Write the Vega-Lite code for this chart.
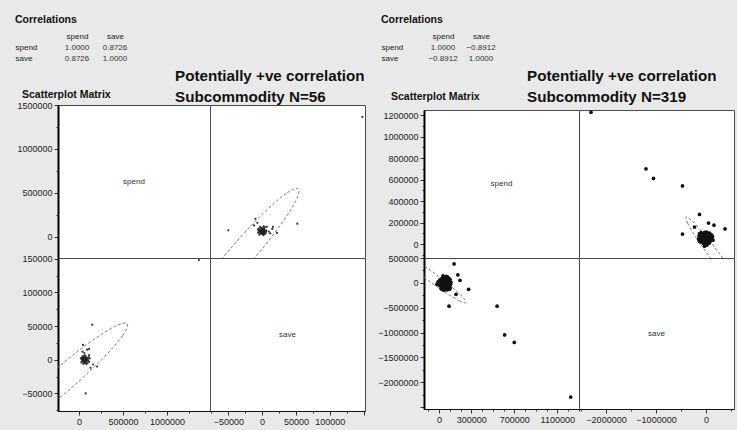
{
  "$schema": "https://vega.github.io/schema/vega-lite/v6.json",
  "background": "#e9e9e9",
  "padding": {"left": 15, "top": 14, "right": 2, "bottom": 6},
  "config": {
    "font": "Liberation Sans",
    "view": {"stroke": "#4a4a4a", "fill": "white"},
    "axis": {"grid": false, "title": null, "labelFontSize": 9, "labelColor": "#222", "tickColor": "#333", "domainColor": "#111", "tickSize": 4, "labelPadding": 2, "labelOverlap": false},
    "title": {"font": "Liberation Sans", "color": "#111"}
  },
  "datasets": {
    "corrL": [
      {"row": "spend", "col": "spend", "r": 1},
      {"row": "spend", "col": "save", "r": 0.8726},
      {"row": "save", "col": "spend", "r": 0.8726},
      {"row": "save", "col": "save", "r": 1}
    ],
    "corrR": [
      {"row": "spend", "col": "spend", "r": 1},
      {"row": "spend", "col": "save", "r": -0.8912},
      {"row": "save", "col": "spend", "r": -0.8912},
      {"row": "save", "col": "save", "r": 1}
    ],
    "ptsL": [
      {"spend": 1364000, "save": 148000}, {"spend": 75000, "save": -50000}, {"spend": 150000, "save": 52000},
      {"spend": 160000, "save": -7000}, {"spend": 114000, "save": 7000}, {"spend": 114000, "save": 16000},
      {"spend": 45000, "save": 22000}, {"spend": 91000, "save": 15000}, {"spend": 205000, "save": -10000},
      {"spend": 130000, "save": -12000}, {"spend": 60000, "save": 10000}, {"spend": 40000, "save": 12000},
      {"spend": 30000, "save": 1000}, {"spend": 35000, "save": -2000}, {"spend": 40000, "save": 0},
      {"spend": 42000, "save": 3000}, {"spend": 45000, "save": -1000}, {"spend": 48000, "save": 2000},
      {"spend": 50000, "save": -3000}, {"spend": 52000, "save": 0}, {"spend": 55000, "save": 1000},
      {"spend": 57000, "save": -2000}, {"spend": 60000, "save": 2000}, {"spend": 62000, "save": 0},
      {"spend": 64000, "save": -4000}, {"spend": 66000, "save": 3000}, {"spend": 68000, "save": -1000},
      {"spend": 70000, "save": 1000}, {"spend": 72000, "save": -2000}, {"spend": 75000, "save": 4000},
      {"spend": 78000, "save": 0}, {"spend": 80000, "save": -3000}, {"spend": 85000, "save": 2000},
      {"spend": 88000, "save": -1000}, {"spend": 92000, "save": 3000}, {"spend": 95000, "save": -5000},
      {"spend": 100000, "save": 1000}, {"spend": 105000, "save": -2000}, {"spend": 110000, "save": 4000},
      {"spend": 25000, "save": -4000}, {"spend": 20000, "save": 2000}, {"spend": 38000, "save": 5000},
      {"spend": 58000, "save": 6000}, {"spend": 82000, "save": -6000}, {"spend": 47000, "save": -6000},
      {"spend": 115000, "save": -3000}, {"spend": 53000, "save": 4000}, {"spend": 67000, "save": -5000},
      {"spend": 73000, "save": 6000}, {"spend": 90000, "save": 0}, {"spend": 120000, "save": 2000},
      {"spend": 33000, "save": 3000}, {"spend": 56000, "save": -1000}, {"spend": 61000, "save": 1000},
      {"spend": 49000, "save": 0}, {"spend": 69000, "save": 2000}
    ],
    "ellL": [
      {"i": 0, "spend": 548000, "save": 53600}, {"i": 1, "spend": 494000, "save": 35600},
      {"i": 2, "spend": 256000, "save": 0}, {"i": 3, "spend": -102000, "save": -43300},
      {"i": 4, "spend": -485000, "save": -83000}, {"i": 5, "spend": -790000, "save": -108600},
      {"i": 6, "spend": -934000, "save": -113000}, {"i": 7, "spend": -880000, "save": -95000},
      {"i": 8, "spend": -642000, "save": -59400}, {"i": 9, "spend": -284000, "save": -16000},
      {"i": 10, "spend": 99000, "save": 23700}, {"i": 11, "spend": 403000, "save": 49300}
    ],
    "ptsR": [
      {"spend": 1225000, "save": -2300000}, {"spend": 700000, "save": -1200000}, {"spend": 610000, "save": -1050000},
      {"spend": 540000, "save": -470000}, {"spend": 275000, "save": -130000}, {"spend": 158000, "save": -230000},
      {"spend": 93000, "save": -470000}, {"spend": 195000, "save": 50000}, {"spend": 175000, "save": 160000},
      {"spend": 140000, "save": 380000},
      {"spend": 20000, "save": -60000}, {"spend": 30000, "save": -20000}, {"spend": 40000, "save": 10000},
      {"spend": 50000, "save": 40000}, {"spend": 60000, "save": -40000}, {"spend": 70000, "save": 0},
      {"spend": 80000, "save": 60000}, {"spend": 90000, "save": -80000}, {"spend": 100000, "save": 20000},
      {"spend": 25000, "save": 80000}, {"spend": 35000, "save": -100000}, {"spend": 45000, "save": 110000},
      {"spend": 55000, "save": -120000}, {"spend": 65000, "save": 70000}, {"spend": 75000, "save": -10000},
      {"spend": 85000, "save": 30000}, {"spend": 95000, "save": -50000}, {"spend": 105000, "save": -100000},
      {"spend": 15000, "save": 30000}, {"spend": 28000, "save": 50000}, {"spend": 38000, "save": -70000},
      {"spend": 48000, "save": -30000}, {"spend": 58000, "save": 90000}, {"spend": 68000, "save": -90000},
      {"spend": 78000, "save": 120000}, {"spend": 88000, "save": -20000}, {"spend": 98000, "save": 50000},
      {"spend": 108000, "save": -30000}, {"spend": 18000, "save": -110000}, {"spend": 32000, "save": 100000},
      {"spend": 42000, "save": -50000}, {"spend": 52000, "save": 0}, {"spend": 62000, "save": 20000},
      {"spend": 72000, "save": -60000}, {"spend": 82000, "save": 90000}, {"spend": 92000, "save": -110000},
      {"spend": 102000, "save": 70000}, {"spend": 12000, "save": 0}, {"spend": 22000, "save": 20000},
      {"spend": 47000, "save": -80000}, {"spend": 57000, "save": 60000}, {"spend": 67000, "save": -30000},
      {"spend": 77000, "save": 30000}, {"spend": 87000, "save": 100000}, {"spend": 97000, "save": -130000},
      {"spend": 110000, "save": 10000}, {"spend": 63000, "save": 40000}, {"spend": 43000, "save": 70000},
      {"spend": 33000, "save": -40000}, {"spend": 53000, "save": -10000}, {"spend": -10000, "save": 20000},
      {"spend": -20000, "save": -30000}, {"spend": 5000, "save": -50000}, {"spend": 8000, "save": 60000},
      {"spend": 36000, "save": 140000}, {"spend": 74000, "save": -140000}, {"spend": 26000, "save": -130000},
      {"spend": 84000, "save": -60000}, {"spend": 66000, "save": 130000}, {"spend": 46000, "save": -150000}
    ],
    "ellR": [
      {"i": 0, "spend": 251000, "save": -400000}, {"i": 1, "spend": 193000, "save": -366000},
      {"i": 2, "spend": 60000, "save": -196000}, {"i": 3, "spend": -111000, "save": 64000},
      {"i": 4, "spend": -274000, "save": 344000}, {"i": 5, "spend": -387000, "save": 570000},
      {"i": 6, "spend": -419000, "save": 680000}, {"i": 7, "spend": -361000, "save": 646000},
      {"i": 8, "spend": -228000, "save": 476000}, {"i": 9, "spend": -57000, "save": 216000},
      {"i": 10, "spend": 107000, "save": -64000}, {"i": 11, "spend": 220000, "save": -290000}
    ]
  },
  "hconcat": [
    {
      "concat": [
        {
          "data": {"name": "corrL"},
          "width": 76, "height": 22,
          "view": {"stroke": null, "fill": null},
          "title": {"text": "Correlations", "anchor": "start", "frame": "group", "dx": -43, "offset": 7, "fontSize": 10.5, "fontWeight": "bold"},
          "mark": {"type": "text", "fontSize": 8, "color": "#333"},
          "encoding": {
            "x": {"field": "col", "type": "nominal", "sort": ["spend", "save"], "scale": {"padding": 0.5}, "axis": {"orient": "top", "domain": false, "ticks": false, "labelAngle": 0, "labelFontSize": 8, "labelPadding": 2}},
            "y": {"field": "row", "type": "nominal", "sort": ["spend", "save"], "scale": {"padding": 0.5}, "axis": {"domain": false, "ticks": false, "labelAlign": "left", "labelPadding": 43, "labelFontSize": 8}},
            "text": {"field": "r", "type": "quantitative", "format": ".4f"}
          }
        },
        {
          "concat": [
            {
              "width": 152, "height": 153,
              "view": {"fill": "white", "stroke": "#4a4a4a"},
              "title": {"text": "Scatterplot Matrix", "anchor": "start", "frame": "group", "dx": -36, "dy": 2, "offset": 3, "fontSize": 10.5, "fontWeight": "bold"},
              "layer": [
                {"data": {"name": "ptsL"}, "mark": {"type": "point", "opacity": 0},
                 "encoding": {"y": {"field": "spend", "type": "quantitative", "scale": {"domain": [-240000, 1500000], "nice": false, "zero": false},
                   "axis": {"values": [0, 250000, 500000, 750000, 1000000, 1250000, 1500000], "format": "d", "domainWidth": 2, "domainColor": "#000", "labelOverlap": false,
                     "labelExpr": "datum.value % 500000 === 0 ? datum.label : ''",
                     "tickSize": {"condition": {"test": "datum.value % 500000 === 0", "value": 4}, "value": 2}}}}},
                {"data": {"values": [{"name": "spend"}]}, "mark": {"type": "text", "fontSize": 8, "color": "#333"}, "encoding": {"text": {"field": "name"}}}
              ]
            },
            {
              "width": 155, "height": 153,
              "title": {"text": ["Potentially +ve correlation", "Subcommodity  N=56"], "anchor": "start", "frame": "group", "dx": -35, "offset": 0, "fontSize": 15.2, "fontWeight": "bold", "lineHeight": 21},
              "layer": [
                {"data": {"name": "ellL"}, "mark": {"type": "line", "interpolate": "cardinal-closed", "clip": true, "stroke": "#808080", "strokeWidth": 1, "strokeDash": [3, 2]},
                 "encoding": {
                   "x": {"field": "save", "type": "quantitative", "scale": {"domain": [-77000, 152000], "nice": false, "zero": false}, "axis": null},
                   "y": {"field": "spend", "type": "quantitative", "scale": {"domain": [-240000, 1500000], "nice": false, "zero": false}, "axis": null},
                   "order": {"field": "i", "type": "quantitative"}}},
                {"data": {"name": "ptsL"}, "mark": {"type": "circle", "clip": true, "size": 5, "color": "#222", "opacity": 0.9},
                 "encoding": {
                   "x": {"field": "save", "type": "quantitative", "axis": null},
                   "y": {"field": "spend", "type": "quantitative", "axis": null}}}
              ]
            },
            {
              "width": 152, "height": 153,
              "layer": [
                {"data": {"name": "ellL"}, "mark": {"type": "line", "interpolate": "cardinal-closed", "clip": true, "stroke": "#808080", "strokeWidth": 1, "strokeDash": [3, 2]},
                 "encoding": {
                   "x": {"field": "spend", "type": "quantitative", "scale": {"domain": [-240000, 1490000], "nice": false, "zero": false},
                     "axis": {"values": [0, 250000, 500000, 750000, 1000000, 1250000], "format": "d", "labelOverlap": false,
                       "labelExpr": "datum.value % 500000 === 0 ? datum.label : ''",
                       "tickSize": {"condition": {"test": "datum.value % 500000 === 0", "value": 4}, "value": 2}}},
                   "y": {"field": "save", "type": "quantitative", "scale": {"domain": [-76000, 151000], "nice": false, "zero": false},
                     "axis": {"values": [-75000, -50000, -25000, 0, 25000, 50000, 75000, 100000, 125000, 150000], "format": "d", "domainWidth": 2, "domainColor": "#000", "labelOverlap": false,
                       "labelExpr": "datum.value % 50000 === 0 ? datum.label : ''",
                       "tickSize": {"condition": {"test": "datum.value % 50000 === 0", "value": 4}, "value": 2}}},
                   "order": {"field": "i", "type": "quantitative"}}},
                {"data": {"name": "ptsL"}, "mark": {"type": "circle", "clip": true, "size": 5, "color": "#222", "opacity": 0.9},
                 "encoding": {
                   "x": {"field": "spend", "type": "quantitative",
                     "axis": {"values": [0, 250000, 500000, 750000, 1000000, 1250000], "format": "d", "labelOverlap": false,
                       "labelExpr": "datum.value % 500000 === 0 ? datum.label : ''",
                       "tickSize": {"condition": {"test": "datum.value % 500000 === 0", "value": 4}, "value": 2}}},
                   "y": {"field": "save", "type": "quantitative",
                     "axis": {"values": [-75000, -50000, -25000, 0, 25000, 50000, 75000, 100000, 125000, 150000], "format": "d", "domainWidth": 2, "domainColor": "#000", "labelOverlap": false,
                       "labelExpr": "datum.value % 50000 === 0 ? datum.label : ''",
                       "tickSize": {"condition": {"test": "datum.value % 50000 === 0", "value": 4}, "value": 2}}}}}
              ]
            },
            {
              "width": 155, "height": 153,
              "view": {"fill": "white", "stroke": "#4a4a4a"},
              "layer": [
                {"data": {"name": "ptsL"}, "mark": {"type": "point", "opacity": 0},
                 "encoding": {"x": {"field": "save", "type": "quantitative", "scale": {"domain": [-77000, 152000], "nice": false, "zero": false},
                   "axis": {"values": [-75000, -50000, -25000, 0, 25000, 50000, 75000, 100000, 125000, 150000], "format": "d", "labelOverlap": false,
                     "labelExpr": "datum.value % 50000 === 0 && datum.value < 150000 ? datum.label : ''",
                     "tickSize": {"condition": {"test": "datum.value % 50000 === 0", "value": 4}, "value": 2}}}}},
                {"data": {"values": [{"name": "save"}]}, "mark": {"type": "text", "fontSize": 8, "color": "#333"}, "encoding": {"text": {"field": "name"}}}
              ]
            }
          ],
          "columns": 2, "spacing": 0, "bounds": "flush"
        }
      ],
      "columns": 1, "align": "none", "spacing": 4
    },
    {
      "concat": [
        {
          "data": {"name": "corrR"},
          "width": 76, "height": 22,
          "view": {"stroke": null, "fill": null},
          "title": {"text": "Correlations", "anchor": "start", "frame": "group", "dx": -43, "offset": 7, "fontSize": 10.5, "fontWeight": "bold"},
          "mark": {"type": "text", "fontSize": 8, "color": "#333"},
          "encoding": {
            "x": {"field": "col", "type": "nominal", "sort": ["spend", "save"], "scale": {"padding": 0.5}, "axis": {"orient": "top", "domain": false, "ticks": false, "labelAngle": 0, "labelFontSize": 8, "labelPadding": 2}},
            "y": {"field": "row", "type": "nominal", "sort": ["spend", "save"], "scale": {"padding": 0.5}, "axis": {"domain": false, "ticks": false, "labelAlign": "left", "labelPadding": 43, "labelFontSize": 8}},
            "text": {"field": "r", "type": "quantitative", "format": ".4f"}
          }
        },
        {
          "concat": [
            {
              "width": 155, "height": 148,
              "view": {"fill": "white", "stroke": "#4a4a4a"},
              "title": {"text": "Scatterplot Matrix", "anchor": "start", "frame": "group", "dx": -33, "dy": -4, "offset": 3, "fontSize": 10.5, "fontWeight": "bold"},
              "layer": [
                {"data": {"name": "ptsR"}, "mark": {"type": "point", "opacity": 0},
                 "encoding": {"y": {"field": "spend", "type": "quantitative", "scale": {"domain": [-130000, 1247000], "nice": false, "zero": false},
                   "axis": {"values": [-100000, 0, 100000, 200000, 300000, 400000, 500000, 600000, 700000, 800000, 900000, 1000000, 1100000, 1200000], "format": "d", "domainWidth": 2, "domainColor": "#000", "labelOverlap": false,
                     "labelExpr": "datum.value % 200000 === 0 ? datum.label : ''",
                     "tickSize": {"condition": {"test": "datum.value % 200000 === 0", "value": 4}, "value": 2}}}}},
                {"data": {"values": [{"name": "spend"}]}, "mark": {"type": "text", "fontSize": 8, "color": "#333"}, "encoding": {"text": {"field": "name"}}}
              ]
            },
            {
              "width": 155, "height": 148,
              "title": {"text": ["Potentially +ve correlation", "Subcommodity  N=319"], "anchor": "start", "frame": "group", "dx": -52, "offset": 5, "fontSize": 15.2, "fontWeight": "bold", "lineHeight": 21},
              "layer": [
                {"data": {"name": "ellR"}, "mark": {"type": "line", "interpolate": "cardinal-closed", "clip": true, "stroke": "#808080", "strokeWidth": 1, "strokeDash": [3, 2]},
                 "encoding": {
                   "x": {"field": "save", "type": "quantitative", "scale": {"domain": [-2540000, 560000], "nice": false, "zero": false}, "axis": null},
                   "y": {"field": "spend", "type": "quantitative", "scale": {"domain": [-130000, 1247000], "nice": false, "zero": false}, "axis": null},
                   "order": {"field": "i", "type": "quantitative"}}},
                {"data": {"name": "ptsR"}, "mark": {"type": "circle", "clip": true, "size": 14, "color": "#111", "opacity": 1},
                 "encoding": {
                   "x": {"field": "save", "type": "quantitative", "axis": null},
                   "y": {"field": "spend", "type": "quantitative", "axis": null}}}
              ]
            },
            {
              "width": 155, "height": 151,
              "layer": [
                {"data": {"name": "ellR"}, "mark": {"type": "line", "interpolate": "cardinal-closed", "clip": true, "stroke": "#808080", "strokeWidth": 1, "strokeDash": [3, 2]},
                 "encoding": {
                   "x": {"field": "spend", "type": "quantitative", "scale": {"domain": [-140000, 1302000], "nice": false, "zero": false},
                     "axis": {"values": [-100000, 0, 100000, 200000, 300000, 400000, 500000, 600000, 700000, 800000, 900000, 1000000, 1100000, 1200000, 1300000], "format": "d", "labelOverlap": false,
                       "labelExpr": "indexof([0, 300000, 700000, 1100000], datum.value) >= 0 ? datum.label : ''",
                       "tickSize": {"condition": {"test": "indexof([0, 300000, 700000, 1100000], datum.value) >= 0", "value": 4}, "value": 2}}},
                   "y": {"field": "save", "type": "quantitative", "scale": {"domain": [-2540000, 500000], "nice": false, "zero": false},
                     "axis": {"values": [-2500000, -2250000, -2000000, -1750000, -1500000, -1250000, -1000000, -750000, -500000, -250000, 0, 250000, 500000], "format": "d", "domainWidth": 2, "domainColor": "#000", "labelOverlap": false,
                       "labelExpr": "datum.value % 500000 === 0 && datum.value > -2500000 ? datum.label : ''",
                       "tickSize": {"condition": {"test": "datum.value % 500000 === 0", "value": 4}, "value": 2}}},
                   "order": {"field": "i", "type": "quantitative"}}},
                {"data": {"name": "ptsR"}, "mark": {"type": "circle", "clip": true, "size": 14, "color": "#111", "opacity": 1},
                 "encoding": {
                   "x": {"field": "spend", "type": "quantitative",
                     "axis": {"values": [-100000, 0, 100000, 200000, 300000, 400000, 500000, 600000, 700000, 800000, 900000, 1000000, 1100000, 1200000, 1300000], "format": "d", "labelOverlap": false,
                       "labelExpr": "indexof([0, 300000, 700000, 1100000], datum.value) >= 0 ? datum.label : ''",
                       "tickSize": {"condition": {"test": "indexof([0, 300000, 700000, 1100000], datum.value) >= 0", "value": 4}, "value": 2}}},
                   "y": {"field": "save", "type": "quantitative",
                     "axis": {"values": [-2500000, -2250000, -2000000, -1750000, -1500000, -1250000, -1000000, -750000, -500000, -250000, 0, 250000, 500000], "format": "d", "domainWidth": 2, "domainColor": "#000", "labelOverlap": false,
                       "labelExpr": "datum.value % 500000 === 0 && datum.value > -2500000 ? datum.label : ''",
                       "tickSize": {"condition": {"test": "datum.value % 500000 === 0", "value": 4}, "value": 2}}}}}
              ]
            },
            {
              "width": 155, "height": 151,
              "view": {"fill": "white", "stroke": "#4a4a4a"},
              "layer": [
                {"data": {"name": "ptsR"}, "mark": {"type": "point", "opacity": 0},
                 "encoding": {"x": {"field": "save", "type": "quantitative", "scale": {"domain": [-2540000, 560000], "nice": false, "zero": false},
                   "axis": {"values": [-2500000, -2000000, -1500000, -1000000, -500000, 0, 500000], "format": "d", "labelOverlap": false,
                     "labelExpr": "datum.value % 1000000 === 0 ? datum.label : ''",
                     "tickSize": {"condition": {"test": "datum.value % 1000000 === 0", "value": 4}, "value": 2}}}}},
                {"data": {"values": [{"name": "save"}]}, "mark": {"type": "text", "fontSize": 8, "color": "#333"}, "encoding": {"text": {"field": "name"}}}
              ]
            }
          ],
          "columns": 2, "spacing": 0, "bounds": "flush"
        }
      ],
      "columns": 1, "align": "none", "spacing": 4
    }
  ],
  "spacing": 11
}
